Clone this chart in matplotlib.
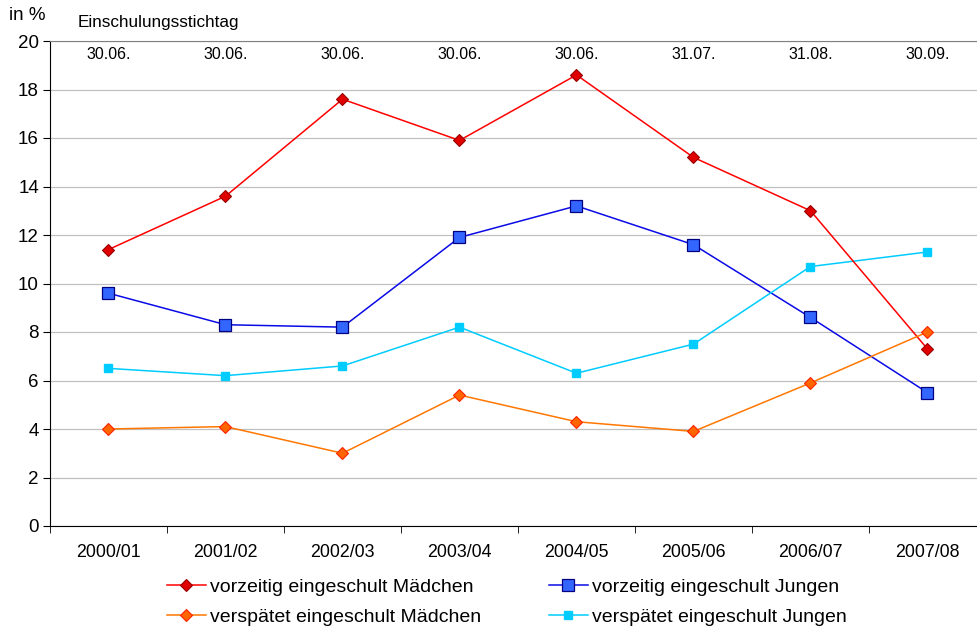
import matplotlib
matplotlib.use('Agg')
import matplotlib.pyplot as plt
import numpy as np

plt.rcParams['font.family'] = ['Liberation Sans', 'DejaVu Sans']

# school years and cut-off dates
years = ['2000/01', '2001/02', '2002/03', '2003/04', '2004/05', '2005/06', '2006/07', '2007/08']
stichtag = ['30.06.', '30.06.', '30.06.', '30.06.', '30.06.', '31.07.', '31.08.', '30.09.']

# values in %
vorzeitig_maedchen = [11.4, 13.6, 17.6, 15.9, 18.6, 15.2, 13.0, 7.3]
vorzeitig_jungen = [9.6, 8.3, 8.2, 11.9, 13.2, 11.6, 8.6, 5.5]
verspaetet_maedchen = [4.0, 4.1, 3.0, 5.4, 4.3, 3.9, 5.9, 8.0]
verspaetet_jungen = [6.5, 6.2, 6.6, 8.2, 6.3, 7.5, 10.7, 11.3]

fig = plt.figure(figsize=(9.78, 6.29), dpi=100)
# plot area runs a bit past the right image edge, like the original
ax = fig.add_axes([50/978, 1 - 526/629, 936/978, 485/629])

x = np.arange(len(years))

ax.plot(x, vorzeitig_maedchen, color='#ff0000', lw=1.1, marker='D', ms=6.5,
        mfc='#e00000', mec='#990000', mew=0.8, label='vorzeitig eingeschult Mädchen', zorder=4)
ax.plot(x, vorzeitig_jungen, color='#0a0ae6', lw=1.1, marker='s', ms=8,
        mfc='#3366ff', mec='#000080', mew=0.9, label='vorzeitig eingeschult Jungen', zorder=3)
ax.plot(x, verspaetet_maedchen, color='#ff7700', lw=1.1, marker='D', ms=6.5,
        mfc='#ff6600', mec='#ff2200', mew=0.8, label='verspätet eingeschult Mädchen', zorder=4)
ax.plot(x, verspaetet_jungen, color='#00ccff', lw=1.1, marker='s', ms=5.5,
        mfc='#00ccff', mec='#00ccff', label='verspätet eingeschult Jungen', zorder=3)

ax.set_xlim(-0.5, len(years) - 0.5)
ax.set_ylim(0, 20)
ax.set_yticks(range(0, 21, 2))
ax.yaxis.grid(True, color='#c0c0c0', lw=0.9)
ax.set_axisbelow(True)

ax.set_xticks(x)
ax.set_xticklabels(years)
ax.set_xticks(np.arange(-0.5, len(years)), minor=True)
ax.tick_params(axis='x', which='major', length=0, pad=13, labelsize=12.8)
ax.tick_params(axis='x', which='minor', length=5, direction='out', color='black')
ax.tick_params(axis='y', length=5, direction='out', labelsize=13.5, pad=3)

ax.spines['right'].set_visible(False)
ax.spines['top'].set_color('#808080')
ax.spines['left'].set_color('black')
ax.spines['bottom'].set_color('black')

for xi, s in zip(x, stichtag):
    ax.text(xi, 19.45, s, ha='center', va='center', fontsize=11.5)

fig.text(9/978, 1 - 16/629, 'in %', fontsize=13.5, va='center', ha='left')
fig.text(78/978, 1 - 23/629, 'Einschulungsstichtag', fontsize=12.3, va='center', ha='left')

handles, labels = ax.get_legend_handles_labels()
order = [0, 2, 1, 3]
leg = fig.legend([handles[i] for i in order], [labels[i] for i in order], ncol=2,
                 loc='center', bbox_to_anchor=(0.518, 1 - 602/629), frameon=False,
                 fontsize=14, handlelength=2.0, handletextpad=0.2,
                 columnspacing=3.5, labelspacing=0.62)

fig.savefig('out.png', dpi=100)
